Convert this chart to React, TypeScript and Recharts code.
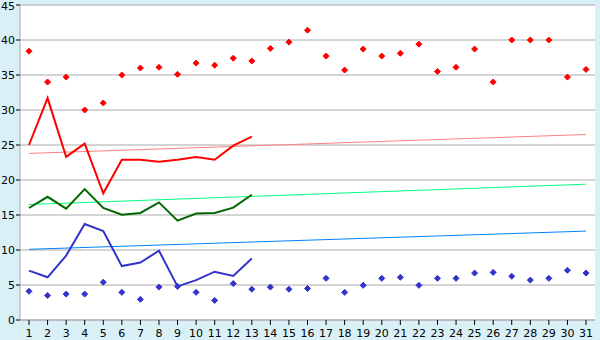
import React from 'react';
import { ComposedChart, Line, XAxis, YAxis, CartesianGrid } from 'recharts';

const days = ['1', '2', '3', '4', '5', '6', '7', '8', '9', '10', '11', '12', '13', '14', '15', '16',
  '17', '18', '19', '20', '21', '22', '23', '24', '25', '26', '27', '28', '29', '30', '31'];

// daily max (red points)
const redDots = [38.4, 34, 34.7, 30, 31, 35, 36, 36.1, 35.1, 36.7, 36.4, 37.4, 37, 38.8, 39.7, 41.4,
  37.7, 35.7, 38.7, 37.7, 38.1, 39.4, 35.5, 36.1, 38.7, 34, 40, 40, 40, 34.7, 35.8];
// daily min (blue points)
const blueDots = [4.1, 3.5, 3.7, 3.7, 5.4, 3.95, 2.95, 4.7, 4.8, 3.95, 2.8, 5.2, 4.4, 4.7, 4.4, 4.5,
  5.95, 3.95, 4.95, 5.95, 6.1, 4.95, 5.95, 5.95, 6.7, 6.8, 6.25, 5.7, 5.95, 7.1, 6.7];

// current month, days 1..13
const redLine = [25, 31.7, 23.3, 25.2, 18.1, 22.9, 22.9, 22.6, 22.9, 23.3, 22.9, 24.9, 26.2];
const greenLine = [16, 17.6, 15.9, 18.7, 16, 15.05, 15.3, 16.8, 14.2, 15.2, 15.3, 16.05, 17.9];
const blueLine = [7.05, 6.1, 9.2, 13.7, 12.7, 7.7, 8.2, 9.9, 4.8, 5.7, 6.9, 6.3, 8.8];

// trend lines: values at day 1 and day 31
const redTrend = [23.8, 26.5];
const greenTrend = [16.5, 19.4];
const blueTrend = [10.1, 12.7];

const yTicks = [0, 5, 10, 15, 20, 25, 30, 35, 40, 45];

const last = days.length - 1;
const data = days.map((d, i) => ({
  day: d,
  redDot: redDots[i],
  blueDot: blueDots[i],
  red: i < redLine.length ? redLine[i] : null,
  green: i < greenLine.length ? greenLine[i] : null,
  blue: i < blueLine.length ? blueLine[i] : null,
  redTrend: i === 0 ? redTrend[0] : i === last ? redTrend[1] : null,
  greenTrend: i === 0 ? greenTrend[0] : i === last ? greenTrend[1] : null,
  blueTrend: i === 0 ? blueTrend[0] : i === last ? blueTrend[1] : null,
}));

const makeMarker = (color: string) => (props: any) => {
  const { cx, cy, index } = props;
  if (cx == null || cy == null) return <g key={index} />;
  const r = 3;
  return (
    <path
      key={index}
      d={`M${cx},${cy - r} L${cx + r},${cy} L${cx},${cy + r} L${cx - r},${cy} Z`}
      fill={color}
      stroke={color}
      strokeWidth={1}
    />
  );
};

const tickStyle = { fontFamily: 'DejaVu Sans, Verdana, sans-serif', fontSize: 11, fill: '#000' };

export default function App() {
  return (
    <div style={{ position: 'absolute', left: 0, top: 0, width: 600, height: 340, background: '#daf0f7' }}>
      <ComposedChart width={600} height={340} data={data} margin={{ top: 5, right: 5, left: 0, bottom: 0 }}>
        <CartesianGrid vertical={false} stroke="#aaaaaa" fill="#ffffff" />
        <XAxis
          dataKey="day"
          interval={0}
          height={20}
          padding={{ left: 9, right: 9 }}
          tick={tickStyle}
          tickSize={5}
          tickMargin={4}
          axisLine={{ stroke: '#aaaaaa' }}
          tickLine={{ stroke: '#000' }}
        />
        <YAxis
          domain={[0, 45]}
          ticks={yTicks}
          width={20}
          tick={tickStyle}
          tickSize={4}
          tickMargin={1}
          axisLine={{ stroke: '#aaaaaa' }}
          tickLine={{ stroke: '#000' }}
        />
        <YAxis yAxisId="r" orientation="right" width={0} domain={[0, 45]} tick={false} tickLine={false} axisLine={{ stroke: '#aaaaaa' }} />
        <Line dataKey="redTrend" stroke="#ff8080" strokeWidth={1} dot={false} connectNulls isAnimationActive={false} />
        <Line dataKey="greenTrend" stroke="#00ff80" strokeWidth={1} dot={false} connectNulls isAnimationActive={false} />
        <Line dataKey="blueTrend" stroke="#0080ff" strokeWidth={1} dot={false} connectNulls isAnimationActive={false} />
        <Line dataKey="red" stroke="#ff0000" strokeWidth={2} dot={false} isAnimationActive={false} />
        <Line dataKey="green" stroke="#006600" strokeWidth={2} dot={false} isAnimationActive={false} />
        <Line dataKey="blue" stroke="#3333cc" strokeWidth={2} dot={false} isAnimationActive={false} />
        <Line dataKey="redDot" stroke="none" dot={makeMarker('#ff0000')} activeDot={false} isAnimationActive={false} />
        <Line dataKey="blueDot" stroke="none" dot={makeMarker('#3333cc')} activeDot={false} isAnimationActive={false} />
      </ComposedChart>
    </div>
  );
}
